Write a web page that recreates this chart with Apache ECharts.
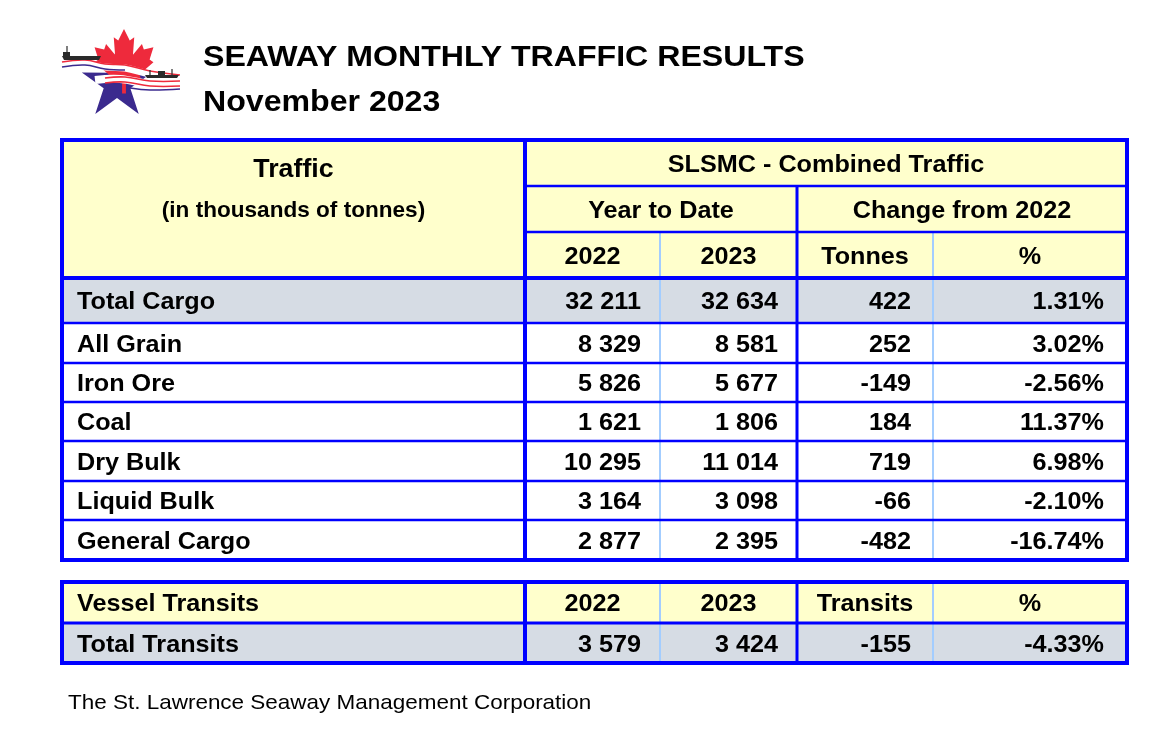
<!DOCTYPE html>
<html><head><meta charset="utf-8">
<script src="https://cdn.jsdelivr.net/npm/echarts@6/dist/echarts.min.js"></script>
<style>html,body{margin:0;padding:0;background:#fff}#c{width:1168px;height:740px}</style>
</head><body><div id="c"></div>
<script>
// ---------------- DATA ----------------
const titleLine1 = 'SEAWAY MONTHLY TRAFFIC RESULTS';
const titleLine2 = 'November 2023';
const footerText = 'The St. Lawrence Seaway Management Corporation';
const headTraffic = 'Traffic';
const headUnits = '(in thousands of tonnes)';
const headGroup = 'SLSMC - Combined Traffic';
const headSub = ['Year to Date', 'Change from 2022'];
const headCols = ['2022', '2023', 'Tonnes', '%'];

const categories = ['Total Cargo', 'All Grain', 'Iron Ore', 'Coal', 'Dry Bulk', 'Liquid Bulk', 'General Cargo'];
const ytd2022 = [32211, 8329, 5826, 1621, 10295, 3164, 2877];
const ytd2023 = [32634, 8581, 5677, 1806, 11014, 3098, 2395];
const changeTonnes = [422, 252, -149, 184, 719, -66, -482];
const changePct = [1.31, 3.02, -2.56, 11.37, 6.98, -2.10, -16.74];

const transitHeadLabel = 'Vessel Transits';
const transitHeadCols = ['2022', '2023', 'Transits', '%'];
const transitLabel = 'Total Transits';
const transits2022 = 3579;
const transits2023 = 3424;
const transitsChange = -155;
const transitsPct = -4.33;

// ---------------- LAYOUT / STYLE ----------------
const FONT = '"Liberation Sans", Arial, Helvetica, sans-serif';
const YELLOW = '#ffffcc', GRAY = '#d6dce4', WHITE = '#ffffff';
const BLUE = '#0000ff', LIGHTBLUE = '#a3cdff';
const colX = [62, 525, 660, 797, 933, 1127];
const hdrY = [140, 186, 232, 278];
const bodyY = [278, 323, 363, 402, 441, 481, 520, 560];
const t2Y = [582, 623, 663];
const padL = 15;
const padR = [0, 19, 19, 22, 23];
const FS = 24;
const SX = 1.05;

function fmtNum(n) {
  const s = String(Math.abs(n)).replace(/\B(?=(\d{3})+(?!\d))/g, ' ');
  return (n < 0 ? '-' : '') + s;
}
function fmtPct(v) { return v.toFixed(2) + '%'; }

// ---------------- CELLS ----------------
const cells = [];
function cell(c0, c1, y0, y1, bg, texts) {
  cells.push({ x0: colX[c0], x1: colX[c1], c1: c1, y0: y0, y1: y1, bg: bg, texts: texts });
}
// header
cell(0, 1, hdrY[0], hdrY[3], YELLOW, [
  { text: headTraffic, align: 'center', y: 170, size: 25.5 },
  { text: headUnits, align: 'center', y: 211, size: 21.5 }
]);
cell(1, 5, hdrY[0], hdrY[1], YELLOW, [{ text: headGroup, align: 'center', size: 24 }]);
cell(1, 3, hdrY[1], hdrY[2], YELLOW, [{ text: headSub[0], align: 'center', size: 24 }]);
cell(3, 5, hdrY[1], hdrY[2], YELLOW, [{ text: headSub[1], align: 'center', size: 24 }]);
headCols.forEach((h, i) => cell(i + 1, i + 2, hdrY[2], hdrY[3], YELLOW, [{ text: h, align: 'center', size: FS }]));
// body
categories.forEach((cat, r) => {
  const bg = r === 0 ? GRAY : WHITE;
  const y0 = bodyY[r], y1 = bodyY[r + 1];
  cell(0, 1, y0, y1, bg, [{ text: cat, align: 'left', size: FS }]);
  cell(1, 2, y0, y1, bg, [{ text: fmtNum(ytd2022[r]), align: 'right', size: FS }]);
  cell(2, 3, y0, y1, bg, [{ text: fmtNum(ytd2023[r]), align: 'right', size: FS }]);
  cell(3, 4, y0, y1, bg, [{ text: fmtNum(changeTonnes[r]), align: 'right', size: FS }]);
  cell(4, 5, y0, y1, bg, [{ text: fmtPct(changePct[r]), align: 'right', size: FS }]);
});
// transits table
cell(0, 1, t2Y[0], t2Y[1], YELLOW, [{ text: transitHeadLabel, align: 'left', size: FS }]);
transitHeadCols.forEach((h, i) => cell(i + 1, i + 2, t2Y[0], t2Y[1], YELLOW, [{ text: h, align: 'center', size: FS }]));
cell(0, 1, t2Y[1], t2Y[2], GRAY, [{ text: transitLabel, align: 'left', size: FS }]);
cell(1, 2, t2Y[1], t2Y[2], GRAY, [{ text: fmtNum(transits2022), align: 'right', size: FS }]);
cell(2, 3, t2Y[1], t2Y[2], GRAY, [{ text: fmtNum(transits2023), align: 'right', size: FS }]);
cell(3, 4, t2Y[1], t2Y[2], GRAY, [{ text: fmtNum(transitsChange), align: 'right', size: FS }]);
cell(4, 5, t2Y[1], t2Y[2], GRAY, [{ text: fmtPct(transitsPct), align: 'right', size: FS }]);

// ---------------- RULES ----------------
const rules = [];
function rule(x0, y0, x1, y1, w, color) { rules.push({ x0, y0, x1, y1, w, color }); }
function tableRules(top, bottom, innerH, lightTop, midTop) {
  rule(colX[2], lightTop, colX[2], bottom, 2, LIGHTBLUE);
  rule(colX[4], lightTop, colX[4], bottom, 2, LIGHTBLUE);
  innerH.forEach(h => rule(h.x0, h.y, colX[5], h.y, h.w, BLUE));
  rule(colX[3], midTop, colX[3], bottom, 3, BLUE);
  rule(colX[1], top, colX[1], bottom, 4, BLUE);
  rule(colX[0] - 2, top, colX[5] + 2, top, 4, BLUE);
  rule(colX[0] - 2, bottom, colX[5] + 2, bottom, 4, BLUE);
  rule(colX[0], top, colX[0], bottom, 4, BLUE);
  rule(colX[5], top, colX[5], bottom, 4, BLUE);
}
const inner1 = [
  { x0: colX[1], y: hdrY[1], w: 2.5 },
  { x0: colX[1], y: hdrY[2], w: 2.5 },
  { x0: colX[0], y: hdrY[3], w: 4 }
];
bodyY.slice(1, -1).forEach(y => inner1.push({ x0: colX[0], y: y, w: 2.5 }));
tableRules(hdrY[0], bodyY[bodyY.length - 1], inner1, hdrY[2], hdrY[1]);
tableRules(t2Y[0], t2Y[2], [{ x0: colX[0], y: t2Y[1], w: 3 }], t2Y[0], t2Y[0]);

// ---------------- CHART ----------------
const chart = echarts.init(document.getElementById('c'), null, { renderer: 'canvas' });

function renderCell(params, api) {
  const c = cells[params.dataIndex];
  const p0 = api.coord([c.x0, c.y0]), p1 = api.coord([c.x1, c.y1]);
  const children = [{
    type: 'rect',
    shape: { x: p0[0], y: p0[1], width: p1[0] - p0[0], height: p1[1] - p0[1] },
    style: { fill: c.bg }
  }];
  c.texts.forEach(t => {
    const xx = t.align === 'left' ? c.x0 + padL : t.align === 'right' ? c.x1 - padR[c.c1 - 1] : (c.x0 + c.x1) / 2;
    const yy = t.y != null ? t.y : (c.y0 + c.y1) / 2 + 2;
    const p = api.coord([xx, yy]);
    children.push({
      type: 'text', x: p[0], y: p[1], z2: 10, scaleX: SX,
      style: {
        text: t.text, fill: '#000', fontSize: t.size, fontWeight: 'bold', fontFamily: FONT,
        align: t.align, verticalAlign: 'middle'
      }
    });
  });
  return { type: 'group', children: children };
}
function renderRule(params, api) {
  const r = rules[params.dataIndex];
  const p0 = api.coord([r.x0, r.y0]), p1 = api.coord([r.x1, r.y1]);
  return {
    type: 'line',
    shape: { x1: p0[0], y1: p0[1], x2: p1[0], y2: p1[1] },
    style: { stroke: r.color, lineWidth: r.w }
  };
}

// logo (decorative emblem)
function starPts(cx, cy, R, r) {
  const pts = [];
  for (let i = 0; i < 10; i++) {
    const a = -Math.PI / 2 + i * Math.PI / 5;
    const rad = i % 2 === 0 ? R : r;
    pts.push([cx + rad * Math.cos(a), cy + rad * Math.sin(a)]);
  }
  return pts;
}
const leafUnit = [[0,0],[0.09,0.17],[0.16,0.12],[0.14,0.38],[0.28,0.22],[0.31,0.30],[0.46,0.27],[0.40,0.45],[0.46,0.49],[0.24,0.67],[0.27,0.75],[0.03,0.72],[0.03,0.95],[-0.03,0.95],[-0.03,0.72],[-0.27,0.75],[-0.24,0.67],[-0.46,0.49],[-0.40,0.45],[-0.46,0.27],[-0.31,0.30],[-0.28,0.22],[-0.14,0.38],[-0.16,0.12],[-0.09,0.17]];
const leafPts = leafUnit.map(p => [124 + p[0] * 64, 29 + p[1] * 68]);

const RED = '#ee2a3c', NAVY = '#3b2a8e', SHIP = '#2a2a2a';
const logo = [
  { type: 'polygon', shape: { points: starPts(117, 84, 37, 14) }, style: { fill: NAVY } },
  { type: 'polygon', shape: { points: leafPts }, style: { fill: RED } },
  // white water bands
  { type: 'polyline', shape: { points: [[62,65],[85,63],[105,67],[125,68],[150,74],[180,78]], smooth: 0.4 }, style: { stroke: '#fff', lineWidth: 7, fill: null } },
  { type: 'polyline', shape: { points: [[95,80],[120,79],[150,84],[180,84]], smooth: 0.4 }, style: { stroke: '#fff', lineWidth: 8, fill: null } },
  // red & blue wave lines
  { type: 'polyline', shape: { points: [[62,62],[85,60],[105,64],[125,65],[150,71],[180,75]], smooth: 0.4 }, style: { stroke: RED, lineWidth: 1.6, fill: null } },
  { type: 'polyline', shape: { points: [[62,67],[85,65],[105,69],[125,70]], smooth: 0.4 }, style: { stroke: NAVY, lineWidth: 1.6, fill: null } },
  { type: 'polyline', shape: { points: [[105,78],[125,77],[150,81],[180,81]], smooth: 0.4 }, style: { stroke: RED, lineWidth: 1.6, fill: null } },
  { type: 'polyline', shape: { points: [[105,83],[125,82],[150,86],[180,86]], smooth: 0.4 }, style: { stroke: RED, lineWidth: 1.6, fill: null } },
  { type: 'polyline', shape: { points: [[130,88],[150,90],[180,89]], smooth: 0.4 }, style: { stroke: NAVY, lineWidth: 1.6, fill: null } },
  // ships
  { type: 'polygon', shape: { points: [[62,56],[101,56],[99,60],[64,60]] }, style: { fill: SHIP } },
  { type: 'rect', shape: { x: 63, y: 52, width: 7, height: 4 }, style: { fill: SHIP } },
  { type: 'line', shape: { x1: 67, y1: 46, x2: 67, y2: 53 }, style: { stroke: SHIP, lineWidth: 1.2 } },
  { type: 'polygon', shape: { points: [[145,75],[179,75],[177,78],[147,78]] }, style: { fill: SHIP } },
  { type: 'rect', shape: { x: 158, y: 71, width: 7, height: 4 }, style: { fill: SHIP } },
  { type: 'line', shape: { x1: 150, y1: 70, x2: 150, y2: 75 }, style: { stroke: SHIP, lineWidth: 1.2 } },
  { type: 'line', shape: { x1: 172, y1: 69, x2: 172, y2: 75 }, style: { stroke: SHIP, lineWidth: 1.2 } }
];

const option = {
  backgroundColor: '#ffffff',
  animation: false,
  grid: { left: 0, right: 0, top: 0, bottom: 0 },
  xAxis: { type: 'value', min: 0, max: 1168, show: false },
  yAxis: { type: 'value', min: 0, max: 740, inverse: true, show: false },
  graphic: [
    { type: 'group', children: logo, z: 5 },
    { type: 'text', x: 203, y: 58, scaleX: 1.07, z: 5,
      style: { text: titleLine1, fontFamily: FONT, fontWeight: 'bold', fontSize: 30, fill: '#000', verticalAlign: 'middle' } },
    { type: 'text', x: 203, y: 103, scaleX: 1.07, z: 5,
      style: { text: titleLine2, fontFamily: FONT, fontWeight: 'bold', fontSize: 30, fill: '#000', verticalAlign: 'middle' } },
    { type: 'text', x: 68, y: 703, scaleX: 1.07, z: 5,
      style: { text: footerText, fontFamily: FONT, fontSize: 21, fill: '#000', verticalAlign: 'middle' } }
  ],
  series: [
    {
      type: 'custom', name: 'cells', z: 2,
      data: cells.map((c, i) => [i]),
      renderItem: renderCell, silent: true
    },
    {
      type: 'custom', name: 'rules', z: 3,
      data: rules.map((r, i) => [i]),
      renderItem: renderRule, silent: true
    }
  ]
};
chart.setOption(option);
</script>
</body></html>
